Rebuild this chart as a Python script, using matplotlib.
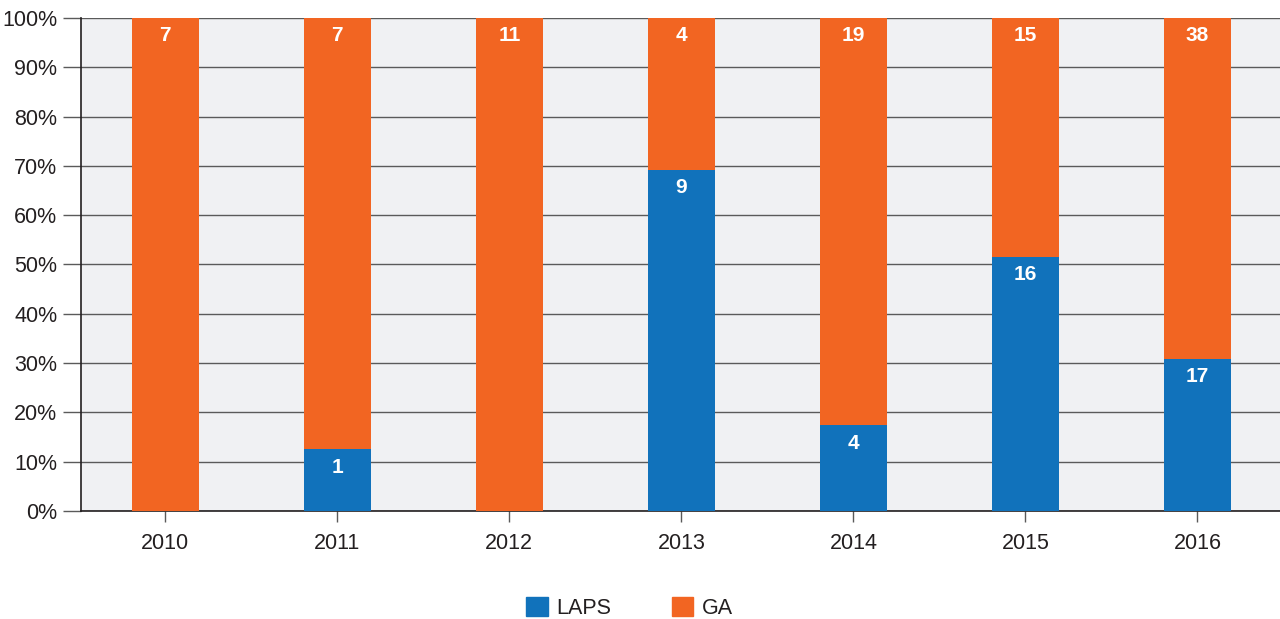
import matplotlib
matplotlib.use("Agg")

import numpy as np
import matplotlib.pyplot as plt
from matplotlib.patches import Patch

years = ["2010", "2011", "2012", "2013", "2014", "2015", "2016"]
laps = np.array([0, 1, 0, 9, 4, 16, 17])
ga = np.array([7, 7, 11, 4, 19, 15, 38])

blue = "#1172bb"
orange = "#f26522"

total = laps + ga
laps_pct = laps / total * 100
ga_pct = ga / total * 100

plt.rcParams["font.family"] = ["Liberation Sans", "DejaVu Sans"]

fig = plt.figure(figsize=(12.8, 6.19), dpi=100)
ax = fig.add_axes([0.0633, 0.1745, 0.9367, 0.7965])
ax.set_facecolor("#f0f1f3")

x = np.arange(len(years))
w = 0.39
ax.bar(x, laps_pct, w, color=blue, zorder=3)
ax.bar(x, ga_pct, w, bottom=laps_pct, color=orange, zorder=3)

# value labels just inside the top of each segment
for xi, lp, l, g in zip(x, laps_pct, laps, ga):
    if l > 0:
        ax.annotate(str(l), (xi, lp), xytext=(0, -13), textcoords="offset points",
                    ha="center", va="center", color="white", fontsize=15,
                    fontweight="bold", zorder=4)
    ax.annotate(str(g), (xi, 100), xytext=(0, -12.5), textcoords="offset points",
                ha="center", va="center", color="white", fontsize=15,
                fontweight="bold", zorder=4)

ax.set_ylim(0, 100)
ax.set_xlim(-0.49, 6.48)
ax.set_yticks(np.arange(0, 101, 10))
ax.set_yticklabels([f"{v}%" for v in range(0, 101, 10)])
ax.set_xticks(x)
ax.set_xticklabels(years)
ax.grid(axis="y", color="#5a5a5a", linewidth=1.0, zorder=1)
ax.tick_params(axis="y", length=13, width=1.0, color="#5a5a5a", labelsize=15.5,
               labelcolor="#231f20", pad=4)
ax.tick_params(axis="x", length=8, width=1.0, color="#5a5a5a", labelsize=15.5,
               labelcolor="#231f20", pad=8)
for side in ["top", "right"]:
    ax.spines[side].set_visible(False)
ax.spines["left"].set_color("#231f20")
ax.spines["bottom"].set_color("#231f20")
ax.spines["left"].set_linewidth(1.2)
ax.spines["bottom"].set_linewidth(1.2)

handles = [Patch(color=blue, label="LAPS"), Patch(color=orange, label="GA")]
fig.legend(handles=handles, loc="center", bbox_to_anchor=(0.492, 0.018), ncol=2,
           frameon=False, fontsize=15.5, handlelength=1.0, handleheight=1.0,
           columnspacing=2.8, handletextpad=0.4, labelcolor="#231f20")

fig.savefig("out.png", dpi=100)
